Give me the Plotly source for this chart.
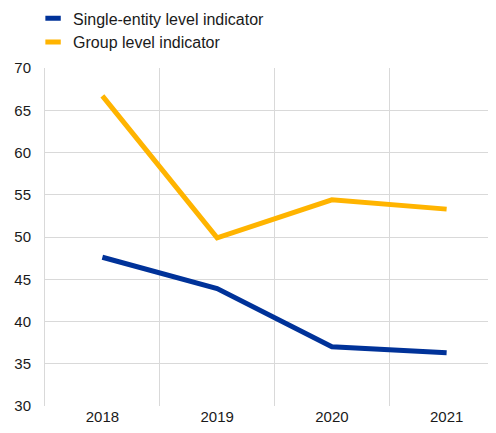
import plotly.graph_objects as go

years = ["2018", "2019", "2020", "2021"]
single_entity = [47.6, 43.9, 37.0, 36.3]
group_level = [66.7, 49.9, 54.4, 53.3]

series = [
    ("Single-entity level indicator", single_entity, "#003299"),
    ("Group level indicator", group_level, "#ffb400"),
]

fig = go.Figure()
for name, values, color in series:
    fig.add_trace(go.Scatter(
        x=years, y=values, mode="lines", name=name,
        line=dict(color=color, width=5),
        showlegend=False,
    ))
    # legend-only entry so the key looks like a short thick bar
    fig.add_trace(go.Scatter(
        x=[None], y=[None], mode="markers", name=name,
        marker=dict(symbol="line-ew", size=11, line=dict(color=color, width=6)),
    ))

# page body adds an 8px offset, so margins are a bit smaller
fig.update_layout(
    width=496, height=433,
    margin=dict(l=37, r=0, t=60, b=35, autoexpand=False),
    plot_bgcolor="white",
    paper_bgcolor="white",
    font=dict(family="Liberation Sans, Arial", size=15, color="#1a1a1a"),
    legend=dict(
        x=-0.026, y=1.197, xanchor="left", yanchor="top",
        bgcolor="rgba(0,0,0,0)",
        font=dict(size=16),
        tracegroupgap=0,
    ),
)
fig.update_xaxes(
    type="category",
    range=[-0.5, 3.5],
    tickson="boundaries",
    showgrid=True, gridcolor="#d9d9d9", gridwidth=1,
    ticks="", zeroline=False,
)
fig.update_yaxes(
    range=[30, 70], dtick=5,
    showgrid=True, gridcolor="#d9d9d9", gridwidth=1,
    zeroline=False, ticks="", ticklabelstandoff=10,
    showline=True, linecolor="#d9d9d9",
)

fig.write_html("out.html")
